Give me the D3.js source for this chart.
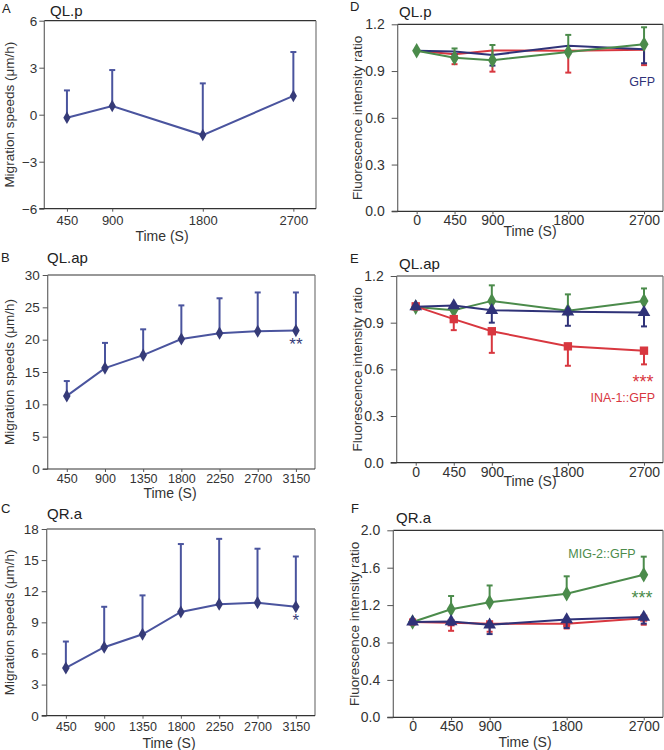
<!DOCTYPE html>
<html><head><meta charset="utf-8">
<script src="https://cdn.jsdelivr.net/npm/d3@7"></script>
<style>
body{margin:0;background:#fff;}
svg{display:block;font-family:"Liberation Sans",Arial,sans-serif;}
</style></head>
<body><svg id="c" width="664" height="750"></svg>
<script>
// ---------- data ----------
const timesA = [450, 900, 1800, 2700];
const speedA = [-0.2, 0.55, -1.3, 1.2];
const errA   = [1.75, 2.3, 3.3, 2.8];

const timesBC = [450, 900, 1350, 1800, 2250, 2700, 3150];
const speedB = [11.3, 15.6, 17.6, 20.1, 21.0, 21.3, 21.4];
const errB   = [2.3, 3.9, 4.0, 5.2, 5.4, 6.0, 5.9];
const speedC = [4.6, 6.6, 7.85, 10.0, 10.75, 10.9, 10.5];
const errC   = [2.55, 3.9, 3.75, 6.55, 6.3, 5.2, 4.85];

const timesF = [0, 450, 900, 1800, 2700];
// D: QL.p
const dGreen = [1.03, 0.985, 0.97, 1.022, 1.072], dGreenErr = [0, 0.06, 0.097, 0.11, 0.109];
const dRed   = [1.03, 1.008, 1.032, 1.03, 1.036], dRedErr   = [0, 0.064, 0.136, 0.14, 0.098];
const dBlue  = [1.03, 1.026, 1.003, 1.062, 1.04], dBlueErr  = [0, 0.02, 0.068, 0.05, 0.09];
// E: QL.ap
const eGreen = [1.0, 0.98, 1.04, 0.977, 1.04],  eGreenErr = [0, 0.0, 0.10, 0.105, 0.08];
const eRed   = [1.005, 0.923, 0.845, 0.748, 0.72], eRedErr = [0, 0.071, 0.139, 0.125, 0.088];
const eBlue  = [1.003, 1.01, 0.98, 0.97, 0.966], eBlueErr  = [0, 0.0, 0.08, 0.09, 0.09];
// F: QR.a
const fGreen = [1.02, 1.155, 1.23, 1.322, 1.525], fGreenErr = [0, 0.142, 0.18, 0.186, 0.193];
const fRed   = [1.02, 1.01, 1.0, 1.0, 1.06],  fRedErr   = [0, 0.085, 0.085, 0.05, 0.07];
const fBlue  = [1.02, 1.025, 0.99, 1.045, 1.072], fBlueErr = [0, 0.035, 0.1, 0.09, 0.07];

const yTicksA = [-6, -3, 0, 3, 6];
const yTicksB = [0, 5, 10, 15, 20, 25, 30];
const yTicksC = [0, 3, 6, 9, 12, 15, 18];
const yTicksDE = [0, 0.3, 0.6, 0.9, 1.2];
const yTicksF = [0, 0.4, 0.8, 1.2, 1.6, 2.0];

const C_LINE = "#4a549e", C_MARK = "#363b78";
const C_BLUE = "#2f3278", C_RED = "#d8373f", C_GREEN = "#4b8b4b";

const svg = d3.select("#c");

function panel(o){
  const g = svg.append("g");
  const x = d3.scaleLinear().domain(o.xd).range([o.x0, o.x1]);
  const y = d3.scaleLinear().domain(o.yd).range([o.y1, o.y0]);
  // frame
  g.append("line").attr("x1",o.x0).attr("x2",o.x1).attr("y1",o.y0).attr("y2",o.y0).attr("stroke","#333").attr("stroke-width",1.2);
  g.append("line").attr("x1",o.x1).attr("x2",o.x1).attr("y1",o.y0).attr("y2",o.y1).attr("stroke","#777").attr("stroke-width",1.2);
  g.append("line").attr("x1",o.x0).attr("x2",o.x0).attr("y1",o.y0).attr("y2",o.y1).attr("stroke","#666").attr("stroke-width",1.2);
  g.append("line").attr("x1",o.x0-o.tick).attr("x2",o.x1).attr("y1",o.y1).attr("y2",o.y1).attr("stroke","#333").attr("stroke-width",1.2);
  // y axis
  const ya = g.append("g").attr("transform",`translate(${o.x0},0)`)
    .call(d3.axisLeft(y).tickValues(o.yt).tickSize(o.tick).tickPadding(o.ypad).tickFormat(o.yf));
  ya.attr("font-family",null).attr("font-size",null);
  ya.select(".domain").remove();
  ya.selectAll("line").attr("stroke","#555");
  ya.selectAll("text").attr("font-size",o.yfs).attr("fill","#333");
  // x axis
  const xa = g.append("g").attr("transform",`translate(0,${o.y1})`)
    .call(d3.axisBottom(x).tickValues(o.xt).tickSize(3).tickPadding(o.xpad).tickFormat(d3.format("d")));
  xa.attr("font-family",null).attr("font-size",null);
  xa.select(".domain").remove();
  xa.selectAll("line").attr("stroke","#555");
  xa.selectAll("text").attr("font-size",o.xfs).attr("fill","#333");
  // labels
  svg.append("text").attr("x",o.lx).attr("y",o.ly).text(o.letter).attr("font-size",13).attr("fill","#222");
  svg.append("text").attr("x",o.tx).attr("y",o.ty).text(o.title).attr("font-size",15).attr("fill","#222");
  svg.append("text").attr("transform",`translate(${o.ylx},${(o.y0+o.y1)/2}) rotate(-90)`)
    .attr("text-anchor","middle").text(o.ylab).attr("font-size",o.ylfs).attr("fill","#333");
  svg.append("text").attr("x",o.xlx).attr("y",o.xly).attr("text-anchor","middle")
    .text("Time (S)").attr("font-size",o.xlfs).attr("fill","#333");
  return {g,x,y};
}

function series(p, times, vals, errs, dir, color, mcol, shape, msize, lw){
  const pts = times.map((t,i)=>({t, v:vals[i], e:errs[i]}));
  const eg = p.g.append("g").attr("stroke",color).attr("stroke-width",2);
  pts.filter(d=>d.e>0).forEach(d=>{
    const ye = p.y(d.v + dir*d.e);
    eg.append("line").attr("x1",p.x(d.t)).attr("x2",p.x(d.t)).attr("y1",p.y(d.v)).attr("y2",ye);
    eg.append("line").attr("x1",p.x(d.t)-3).attr("x2",p.x(d.t)+3).attr("y1",ye).attr("y2",ye);
  });
  p.g.append("path").datum(pts)
    .attr("d", d3.line().x(d=>p.x(d.t)).y(d=>p.y(d.v)))
    .attr("fill","none").attr("stroke",color).attr("stroke-width",lw);
  if(shape){
    p.g.append("g").selectAll("path").data(pts).join("path")
      .attr("transform",d=>`translate(${p.x(d.t)},${p.y(d.v)})`)
      .attr("d", d3.symbol().type(shape).size(msize))
      .attr("fill",mcol);
  }
}

const yLabA = "Migration speeds (\u03bcm/h)";
const yLabD = "Fluorescence  intensity ratio";

// A
const pA = panel({x0:44.3,x1:316,y0:20.7,y1:208.7,xd:[225,2925],yd:[-6,6],yt:yTicksA,xt:timesA,
  tick:5,ypad:2,yfs:13.5,xpad:4,xfs:13,yf:d3.format("d"),letter:"A",lx:2,ly:13,title:"QL.p",tx:50,ty:16,
  ylab:yLabA,ylx:14,ylfs:13.5,xlx:162,xly:241,xlfs:14});
series(pA,timesA,speedA,errA,1,C_LINE,C_MARK,d3.symbolDiamond,45,2);

// B
const pB = panel({x0:47.7,x1:315,y0:275,y1:469,xd:[225,3375],yd:[0,30],yt:yTicksB,xt:timesBC,
  tick:5,ypad:3,yfs:13.5,xpad:2.5,xfs:12.5,yf:d3.format("d"),letter:"B",lx:1,ly:262,title:"QL.ap",tx:47,ty:263,
  ylab:yLabA,ylx:14,ylfs:13.5,xlx:170,xly:498,xlfs:14});
series(pB,timesBC,speedB,errB,1,C_LINE,C_MARK,d3.symbolDiamond,50,2);
svg.append("text").attr("x",pB.x(3150)).attr("y",pB.y(speedB[6])+19).attr("text-anchor","middle")
  .attr("font-size",17).attr("fill",C_MARK).text("**");

// C
const pC = panel({x0:46.7,x1:315,y0:529,y1:715.7,xd:[225,3375],yd:[0,18],yt:yTicksC,xt:timesBC,
  tick:5,ypad:3,yfs:13.5,xpad:3.5,xfs:12.5,yf:d3.format("d"),letter:"C",lx:1,ly:513,title:"QR.a",tx:47,ty:519,
  ylab:yLabA,ylx:14,ylfs:13.5,xlx:169,xly:748,xlfs:14});
series(pC,timesBC,speedC,errC,1,C_LINE,C_MARK,d3.symbolDiamond,50,2);
svg.append("text").attr("x",pC.x(3150)).attr("y",pC.y(speedC[6])+19).attr("text-anchor","middle")
  .attr("font-size",17).attr("fill",C_MARK).text("*");

// D
const f1 = d3.format(".1f");
const pD = panel({x0:397.7,x1:663,y0:24.3,y1:211.3,xd:[-225,2925],yd:[0,1.2],yt:yTicksDE,xt:timesF,
  tick:6,ypad:7,yfs:14,xpad:1,xfs:14,yf:f1,letter:"D",lx:350,ly:11,title:"QL.p",tx:399,ty:17,
  ylab:yLabD,ylx:362,ylfs:13.5,xlx:530,xly:236,xlfs:14});
series(pD,timesF,dRed,dRedErr,-1,C_RED,C_RED,null,0,2);
series(pD,timesF,dBlue,dBlueErr,-1,C_BLUE,C_BLUE,null,0,2);
series(pD,timesF,dGreen,dGreenErr,1,C_GREEN,C_GREEN,d3.symbolDiamond,70,2);
svg.append("text").attr("x",655).attr("y",86).attr("text-anchor","end").attr("font-size",12.5).attr("fill",C_BLUE).text("GFP");

// E
const pE = panel({x0:396.7,x1:663,y0:276,y1:462.7,xd:[-225,2925],yd:[0,1.2],yt:yTicksDE,xt:timesF,
  tick:6,ypad:7,yfs:14,xpad:1,xfs:14,yf:f1,letter:"E",lx:350,ly:263,title:"QL.ap",tx:399,ty:269,
  ylab:yLabD,ylx:362,ylfs:13.5,xlx:530,xly:486,xlfs:14});
series(pE,timesF,eGreen,eGreenErr,1,C_GREEN,C_GREEN,d3.symbolDiamond,70,2);
series(pE,timesF,eRed,eRedErr,-1,C_RED,C_RED,d3.symbolSquare,70,2);
series(pE,timesF,eBlue,eBlueErr,-1,C_BLUE,C_BLUE,d3.symbolTriangle,70,2);
svg.append("text").attr("x",643).attr("y",388).attr("text-anchor","middle").attr("font-size",18).attr("fill",C_RED).text("***");
svg.append("text").attr("x",655).attr("y",402).attr("text-anchor","end").attr("font-size",12.5).attr("fill",C_RED).text("INA-1::GFP");

// F
const pF = panel({x0:393.3,x1:663,y0:530.3,y1:717.3,xd:[-225,2925],yd:[0,2.0],yt:yTicksF,xt:timesF,
  tick:6,ypad:7,yfs:14,xpad:1,xfs:14,yf:f1,letter:"F",lx:351,ly:513,title:"QR.a",tx:396,ty:523,
  ylab:yLabD,ylx:359,ylfs:13.5,xlx:525,xly:747,xlfs:14});
series(pF,timesF,fGreen,fGreenErr,1,C_GREEN,C_GREEN,d3.symbolDiamond,70,2);
series(pF,timesF,fRed,fRedErr,-1,C_RED,C_RED,d3.symbolSquare,50,2);
series(pF,timesF,fBlue,fBlueErr,-1,C_BLUE,C_BLUE,d3.symbolTriangle,70,2);
svg.append("text").attr("x",602).attr("y",558).attr("text-anchor","middle").attr("font-size",12.5).attr("fill",C_GREEN).text("MIG-2::GFP");
svg.append("text").attr("x",642).attr("y",604).attr("text-anchor","middle").attr("font-size",18).attr("fill",C_GREEN).text("***");
</script></body></html>
